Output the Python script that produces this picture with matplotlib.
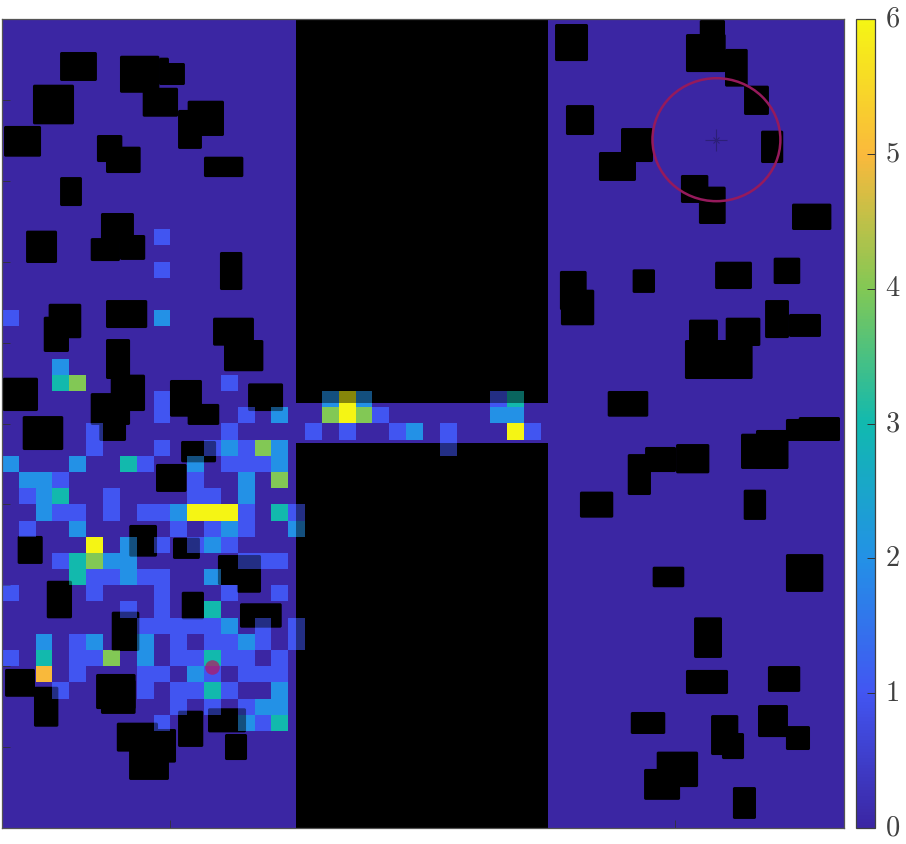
import matplotlib
matplotlib.use('Agg')
import matplotlib.pyplot as plt
import numpy as np
from matplotlib.colors import LinearSegmentedColormap
from matplotlib.patches import Ellipse, FancyBboxPatch, Rectangle
from matplotlib.transforms import ScaledTranslation

plt.rcParams['mathtext.fontset'] = 'cm'

# visit counts, (column, row) of the 50 x 50 grid, row 0 on top
level_1 = [(9, 13), (9, 15), (0, 18), (13, 22), (9, 23), (9, 24), (14, 24), (5, 25), (13, 25), (18, 25),
           (5, 26), (9, 26), (12, 26), (14, 26), (8, 27), (13, 27), (14, 27), (15, 27), (3, 28), (11, 28),
           (1, 29), (6, 29), (11, 29), (12, 29), (3, 30), (4, 30), (6, 30), (8, 30), (9, 30), (14, 30),
           (17, 30), (1, 31), (10, 31), (12, 31), (14, 31), (9, 32), (11, 32), (13, 32), (3, 33), (14, 33),
           (15, 33), (16, 33), (5, 34), (6, 34), (8, 34), (9, 34), (0, 35), (5, 35), (9, 35), (13, 35),
           (16, 35), (7, 36), (9, 36), (8, 37), (9, 37), (10, 37), (11, 37), (12, 37), (15, 37), (17, 37),
           (4, 38), (10, 38), (12, 38), (13, 38), (15, 38), (17, 38), (0, 39), (4, 39), (5, 39), (10, 39),
           (11, 39), (13, 39), (14, 39), (16, 39), (4, 40), (8, 40), (9, 40), (12, 40), (14, 40), (15, 40),
           (16, 40), (3, 41), (8, 41), (10, 41), (11, 41), (13, 41), (10, 42), (12, 42), (14, 42), (9, 43),
           (15, 43), (22, 24), (29, 23), (20, 25), (23, 25), (26, 25), (31, 25), (26, 26)]
level_2 = [(3, 21), (9, 18), (16, 24), (13, 26), (16, 26), (0, 27), (4, 27), (11, 27), (16, 27), (1, 28),
           (2, 28), (14, 28), (2, 29), (14, 29), (2, 30), (10, 30), (4, 31), (13, 31), (17, 31), (7, 32),
           (12, 32), (6, 33), (7, 33), (7, 34), (12, 34), (13, 37), (2, 38), (5, 38), (8, 38), (14, 38),
           (8, 39), (11, 40), (16, 41), (15, 42), (16, 42), (14, 43), (19, 23), (21, 23), (29, 24), (30, 24),
           (24, 25)]
level_3 = [(3, 22), (7, 27), (3, 29), (16, 30), (4, 33), (4, 34), (12, 36), (2, 39), (12, 39), (12, 41),
           (16, 43), (30, 23)]
level_4 = [(4, 22), (15, 26), (16, 28), (5, 33), (6, 39), (19, 24), (21, 24)]
level_5 = [(2, 40)]
level_6 = [(11, 30), (12, 30), (13, 30), (5, 32), (20, 23), (20, 24), (30, 25)]

# obstacles in grid units: x0, x1, y0, y1
left_obstacles = [
    (3.45, 5.64, 2.04, 3.83), (7.01, 9.35, 2.27, 4.56), (9.33, 9.92, 2.39, 4.08), (9.79, 10.87, 2.72, 4.08),
    (8.36, 10.46, 4.25, 6.04), (1.84, 4.28, 4.06, 6.51), (0.12, 2.32, 6.61, 8.51), (10.46, 11.88, 5.62, 8.03),
    (11.03, 13.19, 5.05, 7.23), (5.64, 7.15, 7.17, 8.84), (6.18, 8.24, 7.89, 9.52), (12.0, 14.34, 8.51, 9.77),
    (3.45, 4.75, 9.77, 11.56), (5.88, 7.84, 11.99, 13.84), (5.27, 7.01, 13.54, 14.96), (7.01, 8.51, 13.35, 14.89),
    (1.43, 3.27, 13.08, 15.08), (12.95, 14.28, 14.40, 16.75), (2.77, 4.71, 17.60, 19.73), (2.48, 3.98, 18.40, 20.58),
    (6.18, 8.63, 17.37, 19.10), (6.18, 7.61, 19.78, 22.25), (6.46, 8.50, 21.98, 24.23), (5.27, 7.61, 23.12, 25.09),
    (5.78, 7.37, 24.17, 26.08), (12.54, 14.97, 18.46, 20.19), (13.19, 15.53, 19.84, 21.77), (0.04, 2.14, 22.17, 24.23),
    (9.98, 11.88, 22.31, 24.58), (11.03, 12.91, 23.79, 25.09), (14.62, 16.70, 22.52, 24.23), (1.23, 3.64, 24.54, 26.64),
    (10.64, 12.72, 26.08, 27.40), (9.15, 10.97, 27.50, 29.23), (7.56, 9.21, 31.27, 33.23), (10.16, 11.76, 32.06, 33.37),
    (0.93, 2.42, 31.95, 33.68), (12.83, 15.39, 33.13, 34.98), (13.96, 15.39, 34.05, 35.46), (2.66, 4.16, 34.72, 37.04),
    (10.68, 12.0, 35.40, 37.10), (14.14, 16.62, 36.11, 37.62), (6.52, 8.16, 36.63, 39.06), (0.18, 1.96, 40.17, 41.89),
    (1.90, 3.35, 41.27, 43.74), (5.59, 7.94, 40.48, 42.65), (5.88, 7.94, 40.85, 42.95), (6.82, 9.27, 43.49, 45.28),
    (7.55, 9.92, 44.87, 47.03), (8.97, 10.34, 43.88, 45.96), (10.46, 11.96, 42.75, 44.99), (12.24, 14.50, 42.60, 44.09),
    (13.25, 14.56, 44.19, 45.80),
]
right_obstacles = [
    (41.46, 42.96, 0.06, 1.61), (40.64, 43.0, 0.93, 3.28), (42.96, 44.31, 1.85, 4.18), (44.09, 45.57, 4.12, 5.93),
    (45.10, 46.42, 6.90, 8.90), (36.78, 38.68, 6.74, 8.84), (40.34, 41.97, 9.64, 11.37), (41.41, 43.0, 10.36, 12.67),
    (46.94, 49.28, 11.41, 13.04), (32.86, 34.82, 0.31, 2.60), (33.51, 35.18, 5.32, 7.17), (35.47, 37.67, 8.22, 10.01),
    (33.15, 34.74, 15.57, 17.99), (33.21, 35.19, 16.73, 18.93), (37.47, 38.80, 15.47, 16.93), (42.37, 44.56, 15.0, 16.69),
    (45.85, 47.43, 14.75, 16.38), (45.34, 46.76, 17.37, 19.72), (46.76, 48.66, 18.23, 19.65), (40.82, 42.54, 18.58, 19.90),
    (43.0, 45.06, 18.46, 20.21), (40.58, 44.60, 19.84, 22.25), (35.99, 38.40, 22.99, 24.58), (37.18, 38.56, 26.89, 29.42),
    (38.21, 40.05, 26.45, 28.0), (40.05, 42.03, 26.27, 28.08), (43.91, 46.72, 25.63, 27.81), (44.80, 46.72, 25.40, 27.81),
    (46.58, 49.79, 24.72, 26.08), (47.34, 49.79, 24.60, 26.08), (44.07, 45.40, 29.09, 30.96), (34.34, 36.32, 29.21, 30.82),
    (38.66, 40.54, 33.85, 35.12), (46.58, 48.80, 33.07, 35.41), (41.12, 42.78, 36.98, 39.49), (40.64, 43.14, 40.23, 41.72),
    (45.51, 47.43, 39.99, 41.59), (37.36, 39.41, 42.83, 44.19), (42.13, 43.75, 43.02, 45.49), (42.78, 44.09, 44.13, 45.74),
    (44.92, 46.70, 42.40, 44.38), (46.58, 48.01, 43.70, 45.18), (38.90, 41.36, 45.28, 47.47), (38.15, 40.29, 46.35, 48.26),
    (43.43, 44.80, 47.47, 49.44),
]
walls = [(17.47, 32.46, 0, 23.75), (17.47, 32.46, 26.19, 50)]

goal_x, goal_y, goal_radius = 42.45, 7.46, 3.8
start_x, start_y = 12.46, 40.03

colorbar_ticks = [0, 1, 2, 3, 4, 5, 6]
parula_like = ['#3b26a3', '#4256f2', '#2391e6', '#11b9af', '#82c855', '#fab93c', '#f5f514']

counts = np.zeros((50, 50))
for value, cells in enumerate([level_1, level_2, level_3, level_4, level_5, level_6], start=1):
    for col, row in cells:
        counts[row, col] = value

cmap = LinearSegmentedColormap.from_list('parula_like', parula_like, N=256)

fig = plt.figure(figsize=(9.06, 8.44), dpi=100)
ax = fig.add_axes([2 / 906, 16 / 844, 841.5 / 906, 809 / 844])
extent = (0, 50, 50, 0)
im = ax.imshow(counts, cmap=cmap, vmin=0, vmax=6, extent=extent, aspect='auto',
               interpolation='nearest', zorder=1)

for x0, x1, y0, y1 in left_obstacles + right_obstacles:
    ax.add_patch(FancyBboxPatch((x0, y0), x1 - x0, y1 - y0, boxstyle='round,pad=0,rounding_size=0.1',
                                facecolor='black', edgecolor='none', zorder=2))
for x0, x1, y0, y1 in walls:
    ax.add_patch(Rectangle((x0, y0), x1 - x0, y1 - y0, facecolor='black', edgecolor='none', zorder=2))

# visited cells show through the obstacles, dimmed
ax.imshow(counts, cmap=cmap, vmin=0, vmax=6, extent=extent, aspect='auto',
          interpolation='nearest', alpha=np.where(counts > 0, 0.55, 0.0), zorder=3)

ax.add_patch(Ellipse((goal_x, goal_y), 2 * goal_radius, 2 * goal_radius, fill=False,
                     edgecolor='#961a5c', linewidth=1.8, zorder=4))
ax.plot(goal_x, goal_y, marker='+', markersize=16, markeredgewidth=0.8, color='#2c1f78', zorder=4)
ax.plot(goal_x, goal_y, marker='x', markersize=5, markeredgewidth=0.8, color='#2c1f78', zorder=4)
ax.plot(start_x, start_y, marker='o', markersize=10.5, markeredgewidth=0, color='#b5175f', alpha=0.7, zorder=4)

ax.set_xlim(0, 50)
ax.set_ylim(50, 0)
ax.set_xticks(np.arange(0, 51, 10))
ax.set_yticks(np.arange(0, 51, 5))
ax.tick_params(direction='in', length=5.5, width=0.6, color='#333333', labelbottom=False, labelleft=False)
for side, spine in ax.spines.items():
    spine.set_color('#555555')
    spine.set_linewidth(0.9)
    spine.set_zorder(5)

cax = fig.add_axes([855.5 / 906, 16 / 844, 19.5 / 906, 809 / 844])
cbar = fig.colorbar(im, cax=cax)
cbar.set_ticks(colorbar_ticks)
cbar.set_ticklabels(['$%d$' % t for t in colorbar_ticks])
cax.tick_params(direction='in', length=5.5, width=0.7, color='#333333', labelsize=20.5,
                labelcolor='#404040', pad=7)
shift_up = ScaledTranslation(0, 2.5 / 72, fig.dpi_scale_trans)
for label in cax.get_yticklabels():
    label.set_transform(label.get_transform() + shift_up)
cbar.outline.set_edgecolor('#404040')
cbar.outline.set_linewidth(0.9)

fig.savefig('out.png', dpi=100)
